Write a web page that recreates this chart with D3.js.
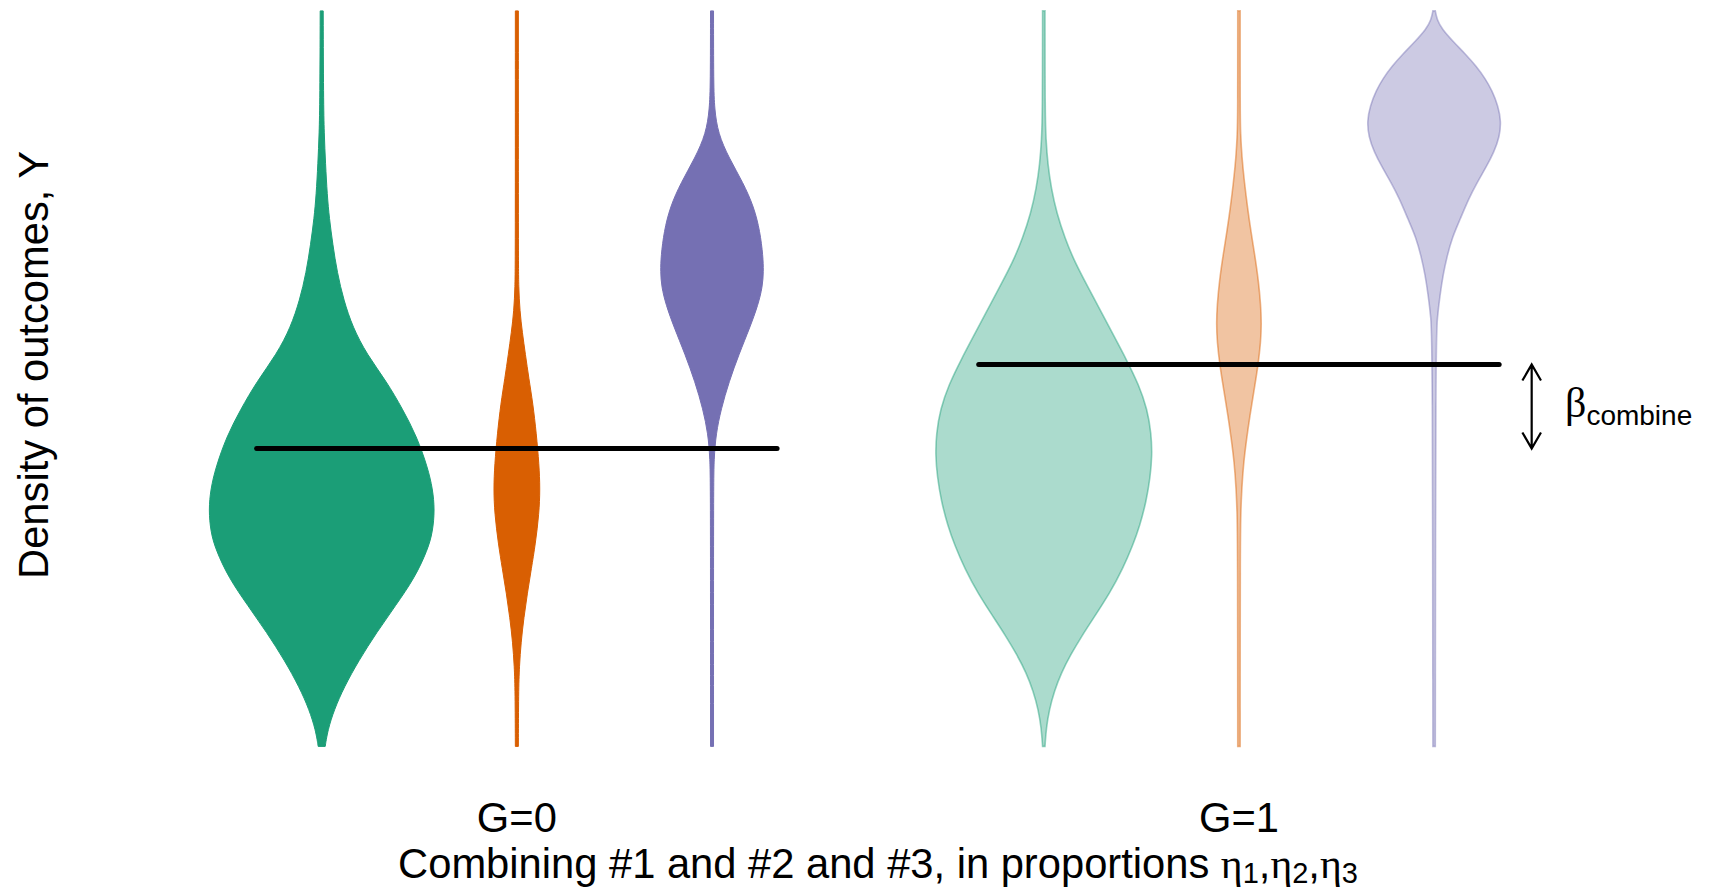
<!DOCTYPE html>
<html>
<head>
<meta charset="utf-8">
<script src="https://cdn.jsdelivr.net/npm/d3@7"></script>
<style>
  html, body { margin: 0; padding: 0; background: #ffffff; }
  svg { display: block; }
  text { font-family: "Liberation Sans", Arial, Helvetica, sans-serif; fill: #000; }
  .greek { font-family: "Liberation Serif", "DejaVu Serif", serif; }
</style>
</head>
<body>
<svg id="chart" width="1710" height="888"></svg>
<script>
// ---------------- DATA ----------------
const groups = ["G=0", "G=1"];
const components = ["#1", "#2", "#3"];
// Overall mean outcome for each group (horizontal black lines), in Y units
const groupMeans = [4.86, 6.23];
// Violin profiles: [Y value, density]
const g0c1 = [[12.0,0.015],[10.55,0.018],[10.0,0.025],[9.51,0.038],[9.0,0.055],[8.62,0.076],[8.2,0.11],[7.73,0.155],[7.28,0.22],[6.84,0.31],[6.4,0.45],[5.95,0.65],[5.5,0.81],[5.06,0.95],[4.55,1.06],[4.2,1.11],[3.86,1.13],[3.5,1.11],[3.21,1.06],[2.75,0.93],[2.3,0.74],[1.86,0.55],[1.4,0.37],[0.97,0.225],[0.6,0.125],[0.26,0.06],[0.0,0.035]];
const g0c2 = [[12.0,0.015],[7.94,0.015],[7.5,0.018],[7.1,0.03],[6.75,0.055],[6.4,0.085],[6.0,0.12],[5.6,0.16],[5.1,0.195],[4.6,0.222],[4.2,0.232],[3.8,0.222],[3.3,0.185],[2.9,0.145],[2.5,0.105],[2.1,0.07],[1.7,0.042],[1.3,0.025],[0.9,0.017],[0.0,0.015]];
const g0c3 = [[12.0,0.015],[10.8,0.016],[10.4,0.025],[10.0,0.06],[9.6,0.17],[9.2,0.31],[8.8,0.42],[8.4,0.48],[8.0,0.51],[7.75,0.515],[7.5,0.505],[7.2,0.46],[6.84,0.38],[6.4,0.27],[5.95,0.17],[5.5,0.09],[5.1,0.04],[4.7,0.02],[4.2,0.015],[0.0,0.015]];
const g1c1 = [[12.0,0.012],[10.3,0.013],[9.9,0.022],[9.5,0.04],[9.1,0.075],[8.7,0.13],[8.3,0.21],[7.9,0.31],[7.5,0.44],[7.1,0.57],[6.7,0.70],[6.3,0.83],[5.9,0.95],[5.5,1.035],[5.1,1.075],[4.75,1.083],[4.4,1.065],[4.0,1.025],[3.6,0.96],[3.28,0.89],[2.9,0.79],[2.5,0.66],[2.1,0.50],[1.8,0.38],[1.5,0.27],[1.2,0.175],[0.9,0.105],[0.6,0.055],[0.3,0.025],[0.0,0.012]];
const g1c2 = [[12.0,0.012],[10.3,0.012],[10.0,0.016],[9.6,0.03],[9.2,0.055],[8.8,0.085],[8.4,0.12],[8.0,0.16],[7.6,0.195],[7.2,0.218],[6.9,0.225],[6.6,0.218],[6.2,0.19],[5.8,0.15],[5.4,0.11],[5.0,0.075],[4.6,0.045],[4.2,0.028],[3.8,0.018],[3.3,0.013],[0.0,0.012]];
const g1c3 = [[12.0,0.012],[11.85,0.03],[11.7,0.08],[11.5,0.19],[11.3,0.31],[11.1,0.42],[10.9,0.51],[10.7,0.58],[10.45,0.64],[10.2,0.67],[9.95,0.655],[9.7,0.60],[9.45,0.52],[9.2,0.43],[8.95,0.35],[8.6,0.26],[8.3,0.18],[8.0,0.13],[7.7,0.09],[7.35,0.058],[7.0,0.032],[6.6,0.016],[0.0,0.012]];
const profiles = [[g0c1, g0c2, g0c3], [g1c1, g1c2, g1c3]];
const yLabel = "Density of outcomes, Y";
const xTitle = "Combining #1 and #2 and #3, in proportions ";
const etaSubs = ["1", "2", "3"];
const betaSub = "combine";

// ---------------- LAYOUT / STYLE ----------------
const colors = ["#1B9E77", "#D95F02", "#7570B3"];
const slotPos = [[1, 2, 3], [4.7, 5.7, 6.7]];
const linePad = 1 / 3;
const mainSize = 41.7, subSize = 29, subShift = 5;

const svg = d3.select("#chart");
const x = d3.scaleLinear().domain([1, 6.7]).range([321.7, 1434.1]);
const y = d3.scaleLinear().domain([0, 12]).range([746.4, 10.9]);
const w = d3.scaleLinear().domain([0, 1]).range([0, 100]);

// Violins
profiles.forEach((grp, gi) => {
  grp.forEach((prof, ci) => {
    const cx = x(slotPos[gi][ci]);
    const pts = prof.slice().sort((a, b) => b[0] - a[0]);
    const area = d3.area()
      .curve(d3.curveBasis)
      .y(d => y(d[0]))
      .x0(d => cx - w(d[1]))
      .x1(d => cx + w(d[1]));
    const p = svg.append("path").attr("d", area(pts));
    if (gi === 0) {
      p.attr("fill", colors[ci]).attr("stroke", colors[ci]).attr("stroke-width", 1);
    } else {
      p.attr("fill", colors[ci]).attr("fill-opacity", 0.37)
       .attr("stroke", colors[ci]).attr("stroke-opacity", 0.45).attr("stroke-width", 1.6);
    }
  });
});

// Group mean lines
groupMeans.forEach((m, gi) => {
  svg.append("line")
    .attr("x1", x(slotPos[gi][0] - linePad)).attr("x2", x(slotPos[gi][2] + linePad))
    .attr("y1", y(m)).attr("y2", y(m))
    .attr("stroke", "#000").attr("stroke-width", 5).attr("stroke-linecap", "round");
});

// Double-headed arrow for beta
const ax = x(7.2);
const yTop = y(groupMeans[1]), yBot = y(groupMeans[0]);
const hx = 9.3, hy = 16;
svg.append("path")
  .attr("d", `M${ax},${yTop}L${ax},${yBot}M${ax - hx},${yTop + hy}L${ax},${yTop}L${ax + hx},${yTop + hy}M${ax - hx},${yBot - hy}L${ax},${yBot}L${ax + hx},${yBot - hy}`)
  .attr("fill", "none").attr("stroke", "#000").attr("stroke-width", 2.2);

const bt = svg.append("text").attr("x", 1565).attr("y", 417);
bt.append("tspan").attr("class", "greek").style("font-size", "42px").text("β");
bt.append("tspan").attr("dy", 8).style("font-size", "28px").text(betaSub);

// Group labels
groups.forEach((g, gi) => {
  svg.append("text")
    .attr("x", x(slotPos[gi][1])).attr("y", 831.5)
    .attr("text-anchor", "middle").style("font-size", mainSize + "px").text(g);
});

// X title with eta subscripts
const tt = svg.append("text").attr("x", 878).attr("y", 878).attr("text-anchor", "middle").style("font-size", mainSize + "px");
tt.append("tspan").text(xTitle);
etaSubs.forEach((s, i) => {
  tt.append("tspan").attr("class", "greek").text("η");
  tt.append("tspan").attr("dy", subShift).style("font-size", subSize + "px").text(s);
  if (i < etaSubs.length - 1) {
    tt.append("tspan").attr("dy", -subShift).text(",");
  }
});

// Y label
svg.append("text")
  .attr("transform", "translate(48,365) rotate(-90)")
  .attr("text-anchor", "middle").style("font-size", mainSize + "px").text(yLabel);
</script>
</body>
</html>
